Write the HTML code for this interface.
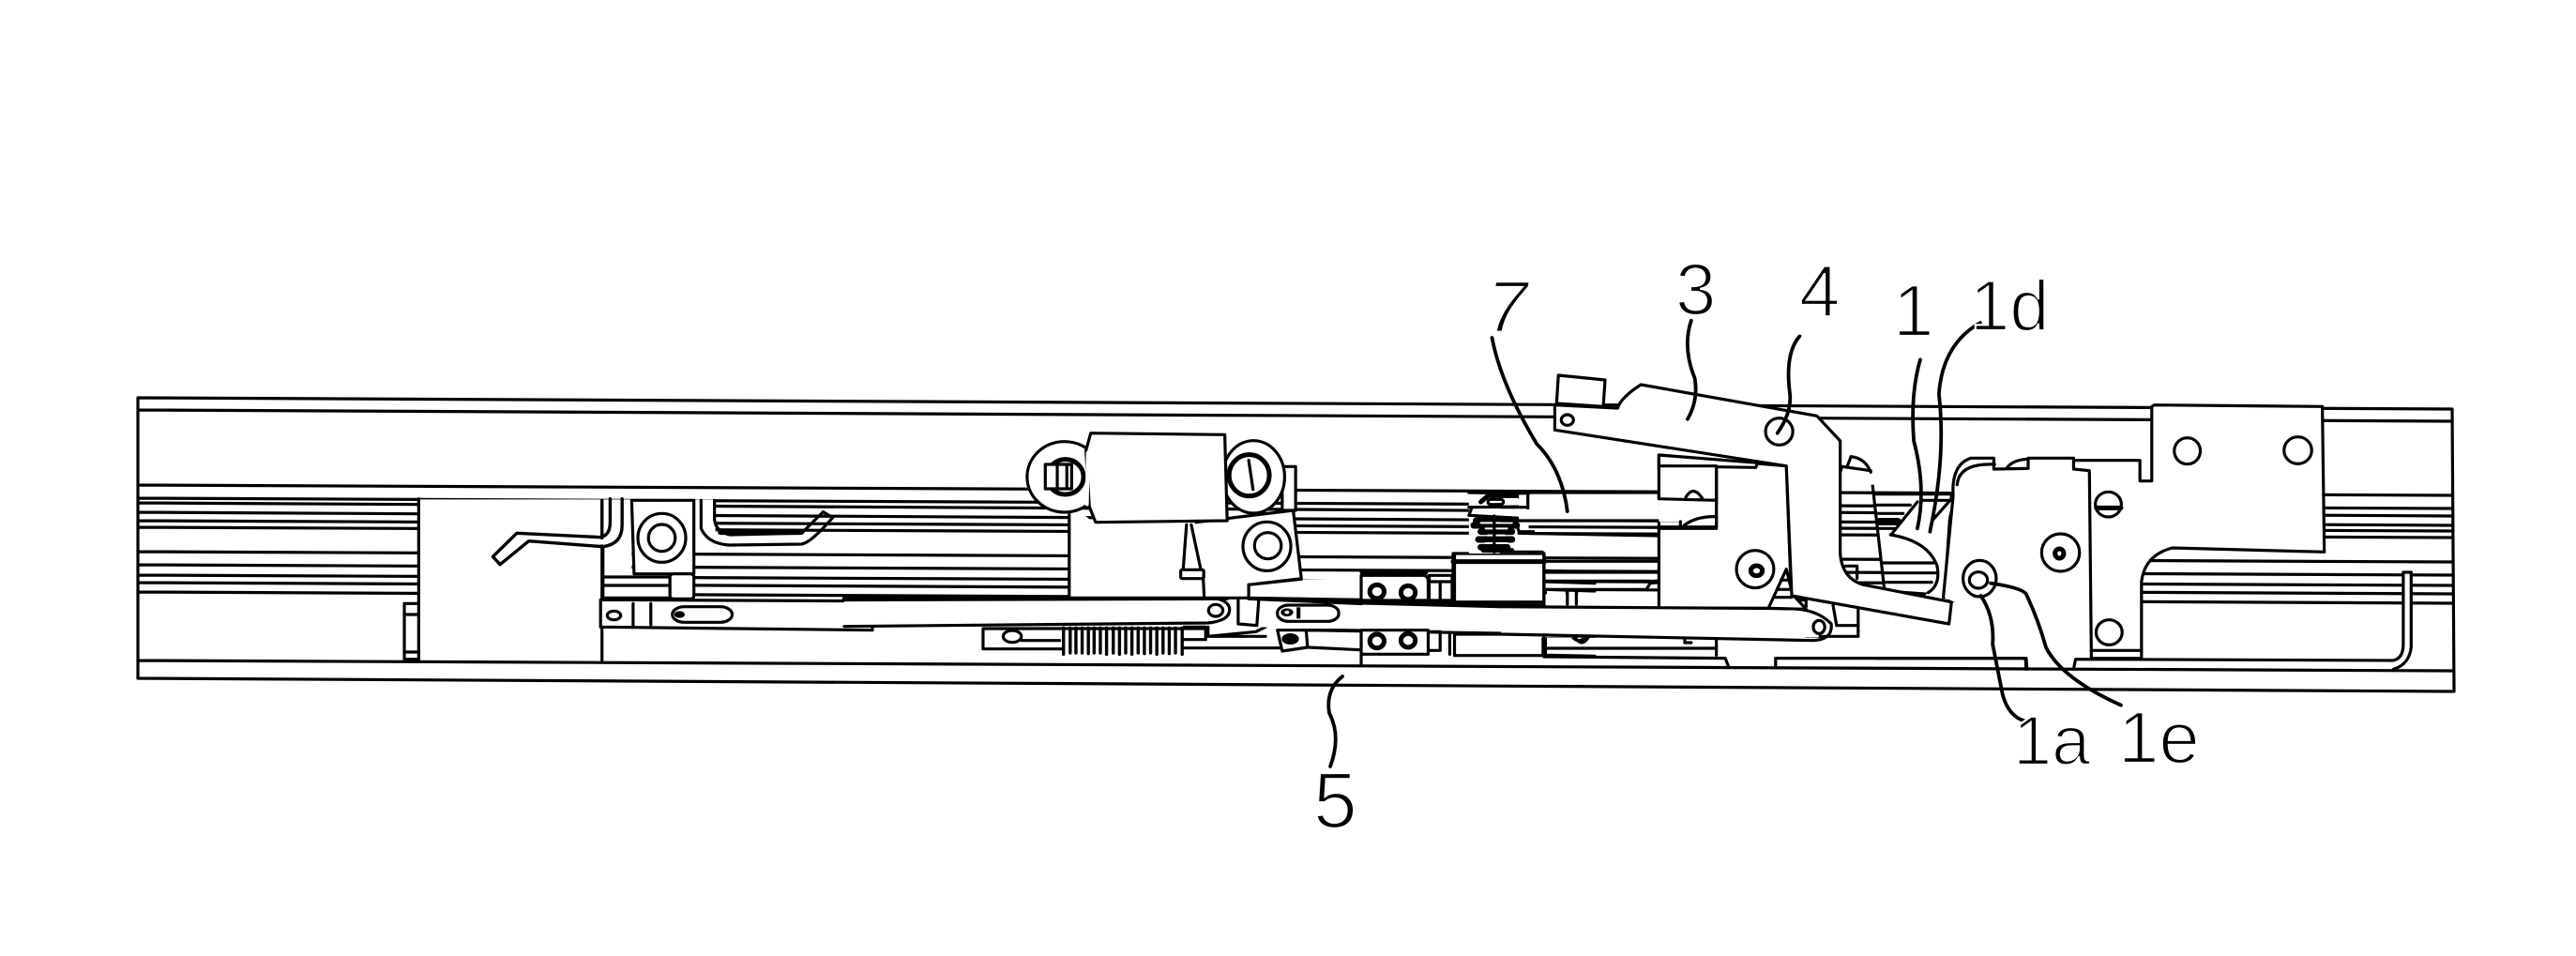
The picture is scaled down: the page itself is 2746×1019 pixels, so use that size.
<!DOCTYPE html>
<html><head><meta charset="utf-8"><title>Patent drawing</title>
<style>
html,body{margin:0;padding:0;background:#fff;width:2746px;height:1019px;overflow:hidden}
svg{display:block}
svg *{vector-effect:non-scaling-stroke}
.s{fill:none;stroke:#000;stroke-width:3.2;stroke-linejoin:round;stroke-linecap:round}
.w{fill:#fff;stroke:#000;stroke-width:3.2;stroke-linejoin:round}
.m{fill:#fff;stroke:none}
.t{stroke:#000;stroke-width:5;fill:none;stroke-linecap:round}
.k{fill:#000;stroke:none}
.l{fill:none;stroke:#000;stroke-width:3.8;stroke-linecap:round;stroke-linejoin:round}
text{font-family:"Liberation Sans",sans-serif;font-size:78px;fill:#000;stroke:#fff;stroke-width:2.2}
</style></head><body>
<svg width="2746" height="1019" viewBox="0 0 2746 1019" xmlns="http://www.w3.org/2000/svg">
<rect width="2746" height="1019" fill="#fff"/>

<!-- frame and rails -->
<g class="s">
<path class="s" d="M147 424L2614 436M147 437L2614 449M147 517L2614 528M147 531L2614 542M147 536L2614 550M147 546L2614 560M147 555L2614 566M147 562L2614 573M147 588L2614 599M147 602L2614 613M147 613L2614 624M147 621L2614 633M147 631L2614 643M147 704L2614 715M147 723L2614 737M147 424L147 723M2614 436L2616 737"/>
</g>

<!-- Z1 coordinates -->
<g transform="translate(130 400) scale(.5102 .33333)">
<path class="m" d="M622 397H1003V910H622Z"/>
<path class="s" d="M620 395V912M1003 545V912"/>
<path class="m" d="M1005 397H1065V640H1005Z"/>
<path class="m" d="M1195 397H1240V545H1195Z"/>
<path class="s" style="stroke-width:3.4" d="M1003 400V520M790 605L775 580L825 505L1000 518Q1020 512 1020 470V395M790 605L850 530L1005 548Q1045 540 1045 480V395"/>
<path class="s" d="M1005 548V640"/>
<path class="w" d="M1065 400H1195V635H1070Z"/>
<ellipse class="s" cx="1128" cy="520" rx="50" ry="78"/>
<ellipse class="s" cx="1128" cy="520" rx="28" ry="43"/>
<path class="s" d="M1210 400V490Q1225 540 1270 543L1420 540Q1440 535 1485 455L1465 437L1420 505L1270 510Q1240 500 1238 460V400"/>
<path class="t" d="M1250 503H1420"/>
<path class="w" d="M1005 645H1145V712H1005Z"/>
<path class="s" d="M1005 672H1140"/>
<rect class="w" x="1145" y="635" width="50" height="80" rx="8"/>
<rect class="w" x="590" y="730" width="30" height="178"/>
<path class="s" d="M590 765H620M590 885H620"/>
<path class="w" d="M1000 718L1568 722V815L1000 805Z"/>
<circle class="s" cx="1028" cy="768" r="14"/>
<path class="s" d="M1068 730V800M1105 730V798"/>
<rect class="s" x="1150" y="740" width="125" height="50" rx="25"/>
<circle class="k" cx="1165" cy="765" r="11"/>
</g>

<!-- Z2 coordinates -->
<g transform="translate(900 400) scale(.5102 .33333)">
<!-- first link bar -->
<path class="m" d="M0 716H770V803H0Z"/>
<path class="t" d="M0 716L800 712"/>
<path class="s" d="M0 803L760 792Q805 785 805 750Q805 720 770 712"/>
<ellipse class="s" cx="776" cy="752" rx="15" ry="19"/>
<!-- lower strip -->
<path class="m" d="M290 810H1080V880H290Z"/>
<path class="s" d="M290 810H760M290 810V875H455M370 848H450"/>
<circle class="s" cx="351" cy="835" r="19"/>
<path class="s" style="stroke-width:3.4" d="M458 808V892M472 808V888M484 808V888M497 808V888M510 808V890M522 808V888M535 808V888M548 808V892M562 808V888M575 808V892M588 808V888M601 808V892M614 808V888M627 808V890M640 808V888M653 808V892M666 808V888M679 808V890M692 808V888M706 808V892"/>
<path class="s" d="M710 805H755V845H710M710 872H915M760 805L760 835L860 820L880 805M760 835L880 835M970 815H1078M970 870L1078 878"/>
<path class="w" d="M905 815L965 815L968 870L915 882Z"/>
<circle class="k" cx="932" cy="843" r="18"/>
<!-- plates behind top block -->
<path class="m" d="M470 445V712H845V670L955 650L938 432L725 470L520 470L500 445Z"/>
<path class="s" d="M470 445V712H845V670L955 650L938 432L735 470"/>
<ellipse class="s" cx="883" cy="547" rx="50" ry="78"/>
<ellipse class="s" cx="885" cy="545" rx="28" ry="42"/>
<path class="s" d="M715 478L708 622M725 478L745 622M750 650L752 712"/>
<rect class="w" x="703" y="622" width="48" height="28" rx="4"/>
<!-- ears -->
<rect class="w" x="915" y="292" width="28" height="140"/>
<ellipse class="w" cx="855" cy="325" rx="65" ry="116"/>
<ellipse class="t" cx="846" cy="320" rx="42" ry="66"/>
<path class="s" d="M845 272L854 365"/>
<ellipse class="w" cx="460" cy="325" rx="78" ry="113"/>
<ellipse class="t" cx="462" cy="325" rx="38" ry="56"/>
<rect class="w" x="420" y="285" width="55" height="78"/>
<path class="s" d="M445 287V360M465 287V360"/>
<path class="w" d="M515 185L795 190L800 465L525 470L512 420L505 240Z"/>
<path class="s" style="stroke:#fff;stroke-width:4" d="M509 248L507 412"/>
<!-- second link bar -->
<path class="m" d="M845 718L1568 732V825L860 805Z"/>
<path class="t" d="M845 712L1080 728"/>
<path class="s" d="M845 672V712M823 718V795L862 800L866 718M960 815L1568 830"/>
<path class="t" d="M1080 726L1568 745"/>
<path class="w" d="M845 670L955 652L1080 650V722L845 714Z" style="stroke:none"/>
<path class="s" d="M845 670L955 652"/>
<path class="s" d="M845 670V712L1082 718"/>
<rect class="s" x="905" y="735" width="128" height="52" rx="24"/>
<circle class="k" cx="925" cy="758" r="13"/>
<circle cx="925" cy="758" r="5" fill="#fff"/>
<path class="k" d="M945 742h8v36h-8z"/>
<!-- small blocks -->
<path class="w" d="M1080 640H1210Q1220 640 1220 660V720H1080Z"/>
<path class="t" d="M1082 630H1215"/>
<ellipse class="t" cx="1113" cy="692" rx="15" ry="22"/>
<ellipse class="t" cx="1178" cy="695" rx="15" ry="22"/>
<path class="w" d="M1222 640H1270V720H1222Z"/>
<path class="s" d="M1222 660H1270M1245 660V720"/>
<path class="w" d="M1272 570H1462V725H1272Z"/>
<path class="t" d="M1272 596H1462"/>
<path class="s" d="M1275 570V725M1462 570V725M1080 722L1568 738"/>
<path class="m" d="M1465 655H1568V735H1465Z"/>
<path class="s" d="M1465 625L1568 630M1465 660L1568 665M1465 685L1568 690M1465 730L1568 736M1465 690V730M1510 690V730M1530 690V730"/>
<!-- lower blocks -->
<path class="w" d="M1080 815H1220V892H1080Z"/>
<ellipse class="t" cx="1113" cy="850" rx="15" ry="22"/>
<ellipse class="t" cx="1178" cy="848" rx="15" ry="22"/>
<path class="s" d="M1225 820H1245V880H1220M1265 822V892"/>
<rect class="s" x="1275" y="828" width="185" height="68"/>
<path class="s" d="M1465 835V895M1465 895L1568 898M1470 835H1568M1520 835Q1535 862 1550 835"/>
<path class="s" d="M1080 892V925"/>
<!-- spring on pin -->
<path class="m" d="M1305 385H1430V570H1305Z"/>
<path class="s" d="M1305 375L1430 378M1425 380V420L1305 422M1310 428L1305 448L1425 458M1405 480L1410 500H1440"/>
<path class="t" d="M1330 405L1345 385H1410L1420 405"/>
<rect class="w" x="1345" y="397" width="32" height="16" rx="6"/>
<path class="t" style="stroke-width:7" d="M1320 465H1400M1315 480H1405M1330 500H1395M1325 525H1395M1330 550H1385"/>
<path class="s" style="stroke:#fff;stroke-width:2" d="M1330 472H1395M1340 490H1385M1345 512H1380M1340 537H1385"/>
<path class="s" d="M1358 450V565"/>
<path class="t" style="stroke-width:5" d="M1335 560H1395"/>
</g>

<!-- Z3 coordinates -->
<g transform="translate(1600 270) scale(.38270 .33333)">
<!-- rod and block behind lever -->
<path class="m" d="M50 772H440V860H50Z"/>
<path class="s" d="M0 765H440M75 770V815M0 812H75M0 855H500M50 895L440 903"/>
<path class="m" d="M120 1090H440V1128H120Z"/>
<path class="s" d="M120 960V1125M0 955H115Q122 960 122 990M122 985H440M122 1020H440M122 1048H415Q420 1050 405 1075H122M185 1080V1122M210 1080V1122"/>
<path class="t" d="M415 1052L440 1050"/>
<path class="w" d="M440 645L490 650L795 680L810 1135H440V880H600V690H440Z"/>
<path class="w" d="M440 645L715 670L710 685L440 680Z"/>
<path class="w" d="M440 680H600V790L440 785Z"/>
<path class="w" d="M600 790V875H500V860L440 860V770L600 790Z" style="stroke:none"/>
<path class="s" d="M440 785L600 790M440 770V785M600 690V875H440V862M500 858V875M510 870Q545 840 600 842M515 780Q535 740 560 782"/>
<ellipse class="s" cx="708" cy="1010" rx="52" ry="60"/>
<circle class="t" cx="712" cy="1015" r="16"/>
<!-- link bar end -->
<path class="w" d="M850 1100L995 1130V1225H850Z"/>
<path class="s" d="M925 1125L935 1190H995"/>
<path class="m" d="M0 1133H885V1228H0Z"/>
<path class="s" d="M0 1130L800 1136Q880 1136 920 1185Q925 1235 870 1238L0 1218"/>
<ellipse class="s" cx="886" cy="1195" rx="16" ry="21"/>
<path class="w" d="M745 1135L795 1010L812 1090L850 1138Z"/>
<path class="s" d="M770 1075H805M760 1100H810M780 1045H808"/>
<path class="s" d="M120 1220V1285M120 1263H600M600 1238V1285M205 1225Q225 1265 245 1225M512 1230V1245H530"/>
<path class="s" d="M120 1290L625 1295L635 1325M765 1325V1295H1463L1465 1325"/>
<!-- gap behind lever -->
<path class="m" d="M1040 772H1255L1235 1100L1065 1075Z"/>
<path class="s" d="M1040 770H1255L1235 1100M1030 690L1068 1075"/>
<path class="s" d="M1048 805H1140M1048 832H1120M1065 990H1205M1068 1022H1215M1070 1052H1200M1055 852H1100"/>
<path class="t" style="stroke-width:8" d="M1055 858H1105"/>
<path class="w" d="M1090 895L1160 795L1258 790L1215 1000Q1180 920 1090 895Z" style="stroke:none"/>
<path class="s" d="M1090 895L1160 795M1170 790L1255 790M1205 850L1255 785M1055 880H1095M1085 900Q1190 920 1215 1000Q1225 1060 1190 1085"/>
<!-- lever 3 -->
<rect class="m" x="950" y="540" width="90" height="200"/>
<path class="w" d="M150 485L325 495Q335 460 390 420L880 520L945 600V960Q950 1040 1010 1060L1255 1115L1248 1185L810 1095L795 680L150 565Z"/>
<path class="w" d="M160 390L290 405L285 490L155 480Z"/>
<circle class="s" cx="185" cy="533" r="17"/>
<ellipse class="s" cx="775" cy="570" rx="38" ry="43"/>
<path class="s" d="M975 650Q1015 655 1030 700L1030 695L950 682M975 650L965 680M960 1000H992V1040"/>
<path class="s" d="M950 682L945 700"/>
<path class="k" d="M1068 1075L1190 1085L1180 1095L1080 1080Z"/>
</g>

<!-- Z4 coordinates -->
<g transform="translate(2000 400) scale(.42088 .33333)">
<!-- plate 1 -->
<path class="m" d="M195 385Q195 275 240 265H670V900H205L198 800L203 728L172 710Z"/>
<path class="s" d="M195 385L170 710M195 385Q190 285 240 265L298 265V300L385 298V265H500M300 285Q210 280 205 350M330 298Q345 270 385 268"/>
<ellipse class="s" cx="467" cy="567" rx="48" ry="60"/>
<ellipse class="t" cx="464" cy="570" rx="11" ry="15"/>
<ellipse class="s" cx="262" cy="650" rx="42" ry="58"/>
<ellipse class="s" cx="259" cy="655" rx="23" ry="26"/>
<!-- bracket -->
<path class="w" d="M705 95L1130 100L1135 565L750 552Q680 575 672 660V905H545L540 305L500 300V272H668V338H698V100Z"/>
<ellipse class="s" cx="788" cy="242" rx="33" ry="42"/>
<ellipse class="s" cx="1068" cy="240" rx="35" ry="43"/>
<ellipse class="s" cx="588" cy="413" rx="33" ry="40"/>
<path class="t" d="M558 424H620"/>
<ellipse class="s" cx="590" cy="822" rx="33" ry="40"/>
<path class="s" d="M545 880H670"/>
<!-- bottom pieces and L rod -->
<path class="m" d="M1335 632H1355V900H1335Z"/>
<path class="s" d="M0 905L378 905L380 940M500 940L505 908L1310 912Q1335 905 1335 860V630H1355V870Q1350 925 1310 940"/>
</g>

<!-- leaders -->
<g transform="translate(1600 270) scale(.38270 .33333)">
<path class="l" d="M-25 270Q0 420 100 610Q170 690 185 825"/>
<path class="l" d="M530 215Q505 300 540 400Q550 470 520 530"/>
<path class="l" d="M832 265Q790 320 805 450Q810 510 770 575"/>
<path class="l" d="M1168 340Q1140 450 1150 600Q1185 750 1160 880"/>
<path class="l" d="M1335 222Q1230 290 1220 450Q1240 650 1195 890"/>
</g>
<g transform="translate(2000 400) scale(.42088 .33333)">
<path class="l" d="M265 705Q300 770 295 860L320 1020Q335 1090 375 1105"/>
<path class="l" d="M290 665Q370 680 380 700Q410 780 430 870Q470 970 620 1055"/>
</g>
<path class="l" d="M1431 721Q1413 735 1417 760Q1430 785 1418 817"/>

<!-- labels -->
<text x="1585" y="354" font-style="italic">7</text>
<text x="1786" y="335">3</text>
<text x="1918" y="337">4</text>
<text x="2018" y="358">1</text>
<text x="2100" y="352" style="font-size:76px">1d</text>
<text x="2146" y="815" style="font-size:74px">1a</text>
<text x="2258" y="813" style="font-size:78px">1e</text>
<text x="1400" y="882" style="font-size:84px">5</text>
</svg>
</body></html>
